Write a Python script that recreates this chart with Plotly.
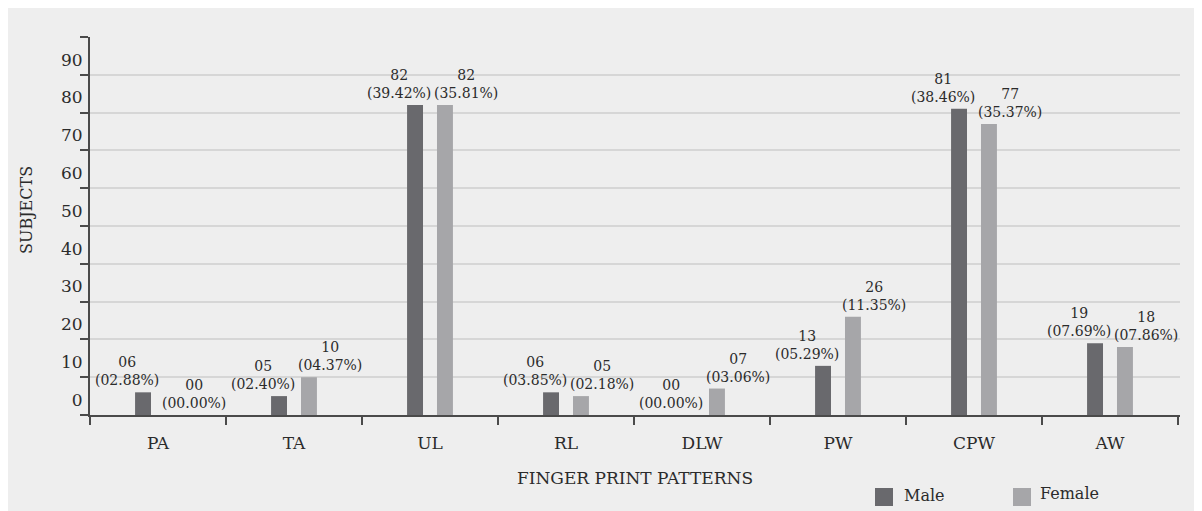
import plotly.graph_objects as go

categories = ["PA", "TA", "UL", "RL", "DLW", "PW", "CPW", "AW"]
male_counts = [6, 5, 82, 6, 0, 13, 81, 19]
male_pct = [2.88, 2.40, 39.42, 3.85, 0.00, 5.29, 38.46, 7.69]
female_counts = [0, 10, 82, 5, 7, 26, 77, 18]
female_pct = [0.00, 4.37, 35.81, 2.18, 3.06, 11.35, 35.37, 7.86]
series_names = ["Male", "Female"]
y_tick_labels = ["0", "10", "20", "30", "40", "50", "60", "70", "80", "90"]
y_grid_values = [0, 10, 20, 30, 40, 50, 60, 70, 80, 90, 100]

MALE_COLOR = "#69696d"
FEMALE_COLOR = "#a6a6a9"
BG = "#eeeeee"
GRID = "#d6d6d6"
AXIS = "#4a4a4a"
TEXT = "#2b2b2b"
FONT = "DejaVu Serif"

W, H = 1202, 511
ML, MR, MT, MB = 82, 30, 29, 104
PW_ = W - ML - MR
PH_ = H - MT - MB

def px_to_paper_x(px):
    return (px - ML) / PW_

def px_to_paper_y(py):
    return (H - MB - py) / PH_

fig = go.Figure()
fig.add_trace(go.Bar(name=series_names[0], x=categories, y=male_counts,
                     marker=dict(color=MALE_COLOR, line=dict(width=0)), showlegend=False))
fig.add_trace(go.Bar(name=series_names[1], x=categories, y=female_counts,
                     marker=dict(color=FEMALE_COLOR, line=dict(width=0)), showlegend=False))

annotations = []
for cat, c, p in zip(categories, male_counts, male_pct):
    annotations.append(dict(x=cat, y=c, xref="x", yref="y", text=f"{c:02d}<br>({p:05.2f}%)",
                            showarrow=False, yanchor="bottom", xanchor="center", xshift=-31, yshift=2,
                            font=dict(family=FONT, size=14, color=TEXT)))
for cat, c, p in zip(categories, female_counts, female_pct):
    annotations.append(dict(x=cat, y=c, xref="x", yref="y", text=f"{c:02d}<br>({p:05.2f}%)",
                            showarrow=False, yanchor="bottom", xanchor="center", xshift=36, yshift=2,
                            font=dict(family=FONT, size=14, color=TEXT)))
annotations.append(dict(x=px_to_paper_x(18), y=px_to_paper_y(202), xref="paper", yref="paper",
                        xanchor="center", yanchor="middle",
                        text="SUBJECTS", textangle=-90, showarrow=False,
                        font=dict(family=FONT, size=16, color=TEXT)))

# legend (drawn manually: swatch + label)
shapes = []
legend_items = [(series_names[0], MALE_COLOR, 867, 894, 487),
                (series_names[1], FEMALE_COLOR, 1005, 1030, 485)]
for name, color, sx, tx, ty in legend_items:
    shapes.append(dict(type="rect", xref="paper", yref="paper",
                       x0=px_to_paper_x(sx), x1=px_to_paper_x(sx + 18),
                       y0=px_to_paper_y(498), y1=px_to_paper_y(480),
                       fillcolor=color, line=dict(width=0)))
    annotations.append(dict(x=px_to_paper_x(tx), y=px_to_paper_y(ty), xref="paper", yref="paper",
                            xanchor="left", yanchor="middle", text=name, showarrow=False,
                            font=dict(family=FONT, size=16, color=TEXT)))

fig.update_layout(
    width=W, height=H, autosize=False,
    margin=dict(l=ML, r=MR, t=MT, b=MB),
    paper_bgcolor=BG, plot_bgcolor=BG,
    barmode="group", bargap=0.56, bargroupgap=0.467,
    font=dict(family=FONT, size=17, color=TEXT),
    showlegend=False,
    annotations=annotations,
    shapes=shapes,
    xaxis=dict(
        title=dict(text="FINGER PRINT PATTERNS", font=dict(family=FONT, size=17, color=TEXT), standoff=20),
        showline=True, linecolor=AXIS, linewidth=2, automargin=False,
        ticks="outside", tickson="boundaries", ticklen=8, tickwidth=2, tickcolor=AXIS,
        showgrid=False, zeroline=False, ticklabelstandoff=12,
        tickfont=dict(family=FONT, size=17, color=TEXT),
    ),
    yaxis=dict(
        range=[0, 100], showline=True, linecolor=AXIS, linewidth=2, automargin=False,
        tickmode="array", tickvals=[i * 10 + 4 for i in range(len(y_tick_labels))],
        ticktext=y_tick_labels, ticks="", showgrid=False, zeroline=False,
        ticklabelstandoff=2,
        tickfont=dict(family=FONT, size=17, color=TEXT),
        minor=dict(tickmode="array", tickvals=y_grid_values, ticks="outside", ticklen=8,
                   tickwidth=2, tickcolor=AXIS, showgrid=True, gridcolor=GRID, gridwidth=2),
    ),
)

fig.write_html("out.html")
